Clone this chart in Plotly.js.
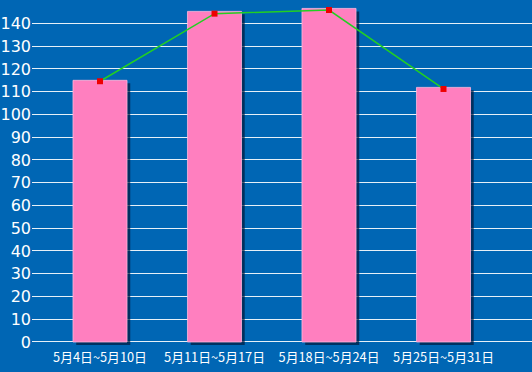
<!DOCTYPE html>
<html>
<head>
<meta charset="utf-8">
<script src="https://cdn.plot.ly/plotly-3.0.1.min.js"></script>
<style>html,body{margin:0;padding:0;background:#0066b4;}</style>
</head>
<body>
<div id="chart" style="width:532px;height:372px;"></div>
<script>
const categories = ["5月4日~5月10日", "5月11日~5月17日", "5月18日~5月24日", "5月25日~5月31日"];
const barValues = [115, 145.3, 146.6, 111.9];
const lineValues = [114.6, 144.3, 145.9, 111.2];
const yTicks = [0, 10, 20, 30, 40, 50, 60, 70, 80, 90, 100, 110, 120, 130, 140];

const xIdx = categories.map((_, i) => i);
const barW = 0.472;

const shadow = {
  type: 'bar', x: xIdx, y: barValues, base: -1.3,
  width: barW, offset: -barW / 2 + 0.028,
  marker: {color: 'rgba(0,25,60,0.7)'},
  hoverinfo: 'skip', showlegend: false
};
const bars = {
  type: 'bar', x: xIdx, y: barValues,
  width: barW, offset: -barW / 2,
  marker: {color: '#ff7fbf', line: {color: '#ffb8dc', width: 0.8}},
  showlegend: false
};
const line = {
  type: 'scatter', mode: 'lines+markers', x: xIdx, y: lineValues,
  line: {color: '#22d022', width: 1.5},
  marker: {symbol: 'square', size: 6, color: '#ee0000'},
  showlegend: false
};

const layout = {
  width: 532, height: 372,
  paper_bgcolor: '#0066b4', plot_bgcolor: '#0066b4',
  margin: {l: 32, r: 0, t: 0, b: 24, pad: 0},
  barmode: 'overlay',
  xaxis: {
    range: [-0.594, 3.773], tickvals: xIdx, ticktext: categories,
    showgrid: false, zeroline: false, showline: false, ticks: '',
    tickfont: {family: 'Noto Sans CJK SC', size: 12.8, color: '#ffffff'}
  },
  yaxis: {
    range: [-2.64, 150.3], tickvals: yTicks, ticktext: yTicks.map(String),
    showgrid: true, gridcolor: 'rgba(255,255,255,0.9)', gridwidth: 1,
    zeroline: false, showline: false, ticks: '',
    tickfont: {family: 'DejaVu Sans', size: 16, color: '#ffffff'}
  }
};

Plotly.newPlot('chart', [shadow, bars, line], layout, {displayModeBar: false, staticPlot: true});
</script>
</body>
</html>
